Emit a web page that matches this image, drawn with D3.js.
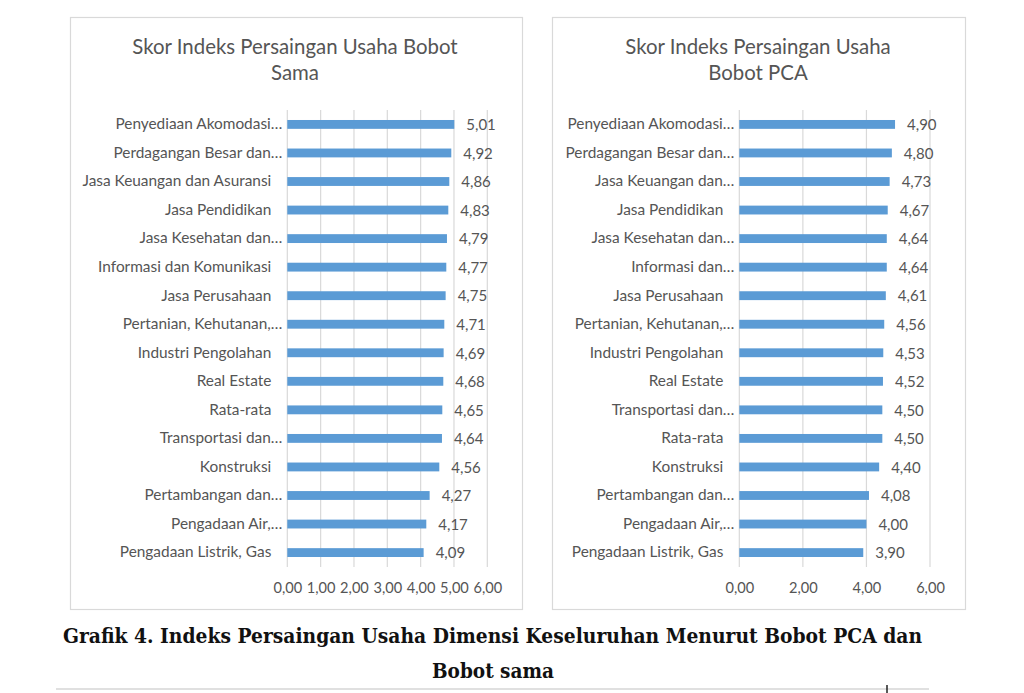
<!DOCTYPE html>
<html>
<head>
<meta charset="utf-8">
<script src="https://cdn.jsdelivr.net/npm/d3@7"></script>
<style>
  body { margin: 0; background: #fff; }
  svg { display: block; }
  .cat, .val, .tick-lbl, .title { font-family: Lato, "Open Sans", sans-serif; fill: #555; }
  .caption { font-family: "DejaVu Serif", serif; font-weight: bold; fill: #111; }
</style>
</head>
<body>
<svg id="chart" width="1024" height="693"></svg>
<script>
// data - Bobot Sama
const catsSama = ["Penyediaan Akomodasi…", "Perdagangan Besar dan…", "Jasa Keuangan dan Asuransi",
  "Jasa Pendidikan", "Jasa Kesehatan dan…", "Informasi dan Komunikasi", "Jasa Perusahaan",
  "Pertanian, Kehutanan,…", "Industri Pengolahan", "Real Estate", "Rata-rata",
  "Transportasi dan…", "Konstruksi", "Pertambangan dan…", "Pengadaan Air,…", "Pengadaan Listrik, Gas"];
const valsSama = [5.01, 4.92, 4.86, 4.83, 4.79, 4.77, 4.75, 4.71, 4.69, 4.68, 4.65, 4.64, 4.56, 4.27, 4.17, 4.09];
const ticksSama = [0, 1, 2, 3, 4, 5, 6];

// data - Bobot PCA
const catsPca = ["Penyediaan Akomodasi…", "Perdagangan Besar dan…", "Jasa Keuangan dan…",
  "Jasa Pendidikan", "Jasa Kesehatan dan…", "Informasi dan…", "Jasa Perusahaan",
  "Pertanian, Kehutanan,…", "Industri Pengolahan", "Real Estate", "Transportasi dan…",
  "Rata-rata", "Konstruksi", "Pertambangan dan…", "Pengadaan Air,…", "Pengadaan Listrik, Gas"];
const valsPca = [4.90, 4.80, 4.73, 4.67, 4.64, 4.64, 4.61, 4.56, 4.53, 4.52, 4.50, 4.50, 4.40, 4.08, 4.00, 3.90];
const ticksPca = [0, 2, 4, 6];

const titleSama = ["Skor Indeks Persaingan Usaha Bobot", "Sama"];
const titlePca = ["Skor Indeks Persaingan Usaha", "Bobot PCA"];
const captionLines = ["Grafik 4. Indeks Persaingan Usaha Dimensi Keseluruhan Menurut Bobot PCA dan", "Bobot sama"];

const svg = d3.select('#chart');
const fmt = v => d3.format('.2f')(v).replace('.', ',');

function drawPanel(cfg) {
    const g = svg.append('g');

    // bingkai panel
    g.append('rect')
        .attr('x', cfg.box[0] + 0.5).attr('y', cfg.box[1] + 0.5)
        .attr('width', cfg.box[2]).attr('height', cfg.box[3])
        .attr('fill', '#fff').attr('stroke', '#d9d9d9').attr('stroke-width', 1.2);

    // judul
    g.append('text')
        .attr('class', 'title')
        .attr('x', cfg.titleX).attr('y', 54)
        .attr('text-anchor', 'middle')
        .style('font-size', '20.4px')
        .selectAll('tspan')
        .data(cfg.title)
        .enter()
        .append('tspan')
        .attr('x', cfg.titleX)
        .attr('dy', (d, i) => i === 0 ? 0 : 26)
        .text(d => d);

    const x = d3.scaleLinear().domain([0, 6]).range(cfg.xRange);
    const y = d3.scaleBand().domain(cfg.cats).range([110, 567]).paddingInner(0.69).paddingOuter(0.35);

    // garis grid
    g.selectAll('.grid')
        .data(cfg.ticks)
        .enter()
        .append('line')
        .attr('x1', d => x(d)).attr('x2', d => x(d))
        .attr('y1', 110).attr('y2', 567)
        .attr('stroke', '#d9d9d9').attr('stroke-width', 1.2);

    // batang
    g.selectAll('.bar')
        .data(cfg.vals)
        .enter()
        .append('rect')
        .attr('x', x(0))
        .attr('y', (d, i) => y(cfg.cats[i]))
        .attr('width', d => x(d) - x(0))
        .attr('height', y.bandwidth())
        .attr('fill', '#5b9bd5');

    // label kategori
    g.selectAll('.cat')
        .data(cfg.cats)
        .enter()
        .append('text')
        .attr('class', 'cat')
        .attr('x', d => x(0) - (d.endsWith('…') ? 5 : 16))
        .attr('y', d => y(d) + y.bandwidth() / 2 + 1)
        .attr('text-anchor', 'end')
        .attr('dominant-baseline', 'middle')
        .style('font-size', '15.4px')
        .text(d => d);

    // label nilai
    g.selectAll('.val')
        .data(cfg.vals)
        .enter()
        .append('text')
        .attr('class', 'val')
        .attr('x', d => x(d) + 12)
        .attr('y', (d, i) => y(cfg.cats[i]) + y.bandwidth() / 2 + 2)
        .attr('dominant-baseline', 'middle')
        .style('font-size', '15px')
        .text(d => fmt(d));

    // sumbu x
    const axis = g.append('g')
        .attr('transform', 'translate(0,567)')
        .call(d3.axisBottom(x).tickValues(cfg.ticks).tickSize(0).tickPadding(16).tickFormat(fmt));
    axis.select('.domain').remove();
    axis.selectAll('text')
        .attr('class', 'tick-lbl')
        .attr('fill', null)
        .style('font-family', 'Lato, "Open Sans", sans-serif')
        .style('font-size', '14.6px');
}

drawPanel({
    box: [70, 17, 452, 592],
    titleX: 295,
    title: titleSama,
    cats: catsSama,
    vals: valsSama,
    ticks: ticksSama,
    xRange: [287.3, 487.3]
});

drawPanel({
    box: [552, 17, 413, 592],
    titleX: 758,
    title: titlePca,
    cats: catsPca,
    vals: valsPca,
    ticks: ticksPca,
    xRange: [739.3, 930]
});

// keterangan grafik
svg.append('text')
    .attr('class', 'caption')
    .attr('x', 63).attr('y', 643)
    .attr('textLength', 859)
    .attr('lengthAdjust', 'spacingAndGlyphs')
    .style('font-size', '20px')
    .text(captionLines[0]);

svg.append('text')
    .attr('class', 'caption')
    .attr('x', 432).attr('y', 678)
    .attr('textLength', 122)
    .attr('lengthAdjust', 'spacingAndGlyphs')
    .style('font-size', '20px')
    .text(captionLines[1]);

svg.append('line')
    .attr('x1', 56).attr('x2', 929)
    .attr('y1', 689).attr('y2', 689)
    .attr('stroke', '#d6d6d6').attr('stroke-width', 1.5);

svg.append('line')
    .attr('x1', 887).attr('x2', 887)
    .attr('y1', 685).attr('y2', 693)
    .attr('stroke', '#222').attr('stroke-width', 1.5);
</script>
</body>
</html>
